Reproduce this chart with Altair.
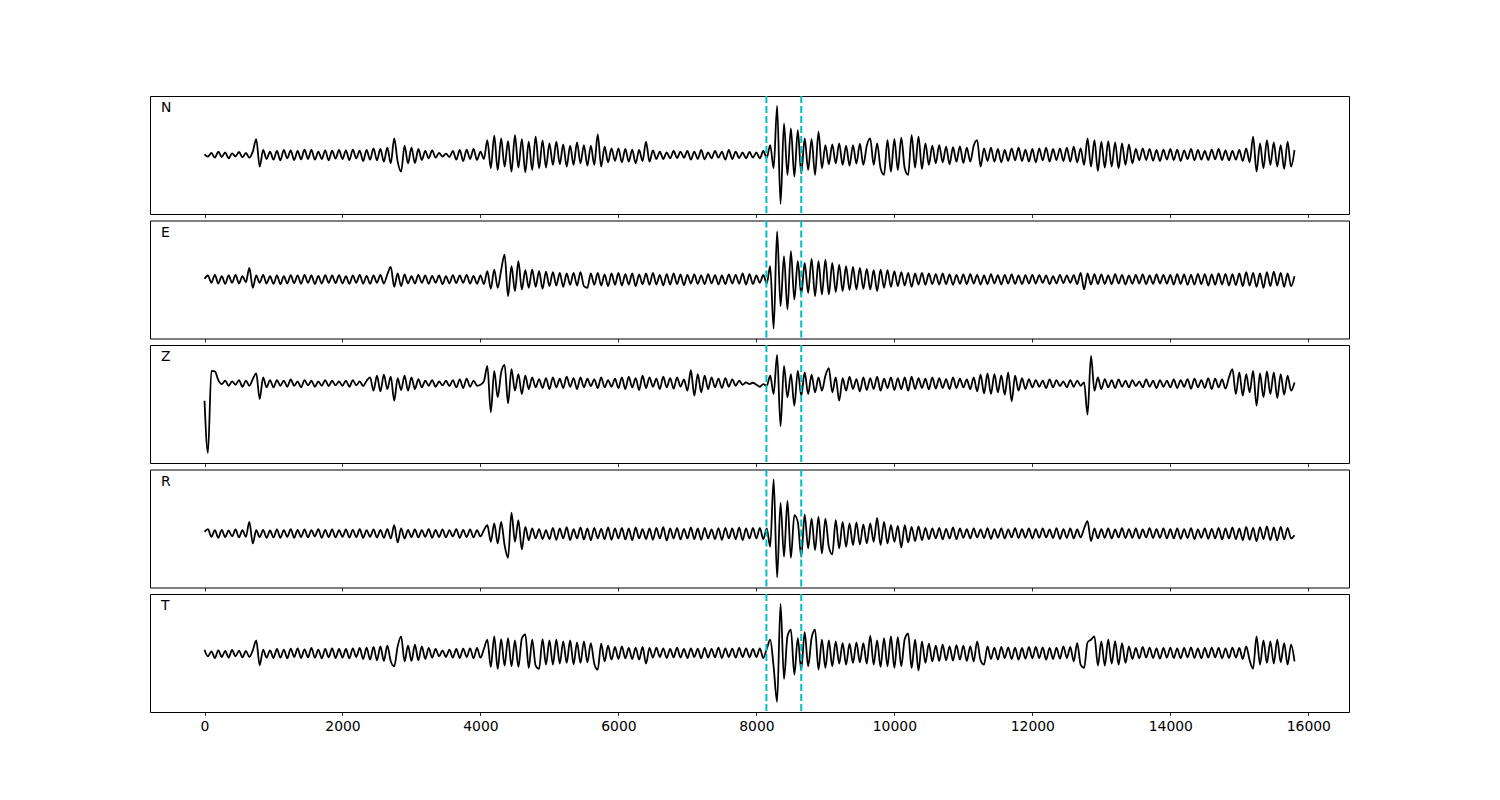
import altair as alt
import pandas as pd

STEP = 50

N_vals = (
    [2, -5, 6, -8, 10, -6, 8, -10, 5, -4, 9, -7, 6, -8, 10, 48, -35, 15, -12, 10]
    + [-14, 12, -16, 15, -10, 14, -15, 12, -13, 16, -12, 15, -14, 10, -12, 14, -16, 13, -11, 15]
    + [-12, 14, -15, 16, -10, 13, -18, 15, -14, 20, -16, 18, -20, 22, -25, 50, -20, -50, 28, -25]
    + [22, -24, 18, -15, 12, -10, 14, -8, 6, -5, 4, -6, 12, -14, 15, -18, 16, -12, 18, -15]
    + [10, -12, 45, -40, 58, -45, 50, -35, 42, -50, 60, -38, 48, -52, 40, -45, 55, -40, 44, -38]
    + [35, -30, 40, -28, 32, -35, 28, -30, 38, -25, 30, -32, 28, -30, 62, -35, 25, -22, 20, -18]
    + [20, -22, 18, -20, 16, -25, 15, -18, 40, -20, 14, -12, 10, -12, 8, -10, 12, -9, 10, -8]
    + [12, -14, 10, -12, 15, -13, 8, -10, 12, -8, 10, -14, 15, -12, 10, -9, 8, -10, 9, -8]
    + [8, -10, 12, -8, 30, -40, 148, -147, 95, -60, 80, -65, 75, -55, 50, -45, 48, -60, 70, -40]
    + [30, -28, 32, -25, 35, -30, 28, -32, 30, -26, 34, -30, 28, 50, -30, 35, -40, -60, 45, -50]
    + [48, -45, 52, -40, -60, 60, -38, 55, -42, 35, -30, 28, -25, 30, -22, 25, -28, 24, -20, 26]
    + [-24, 22, -20, 28, 45, -35, 20, -18, 22, -20, 18, -22, 15, -18, 20, -16, 22, -18, 16, -20]
    + [18, -22, 20, -16, 22, -20, 18, -15, 20, -18, 22, -20, 25, -22, 20, -30, 50, -35, 45, -48]
    + [40, -38, 42, -35, 38, -40, 35, -30, 32, -25, 18, -16, 20, -15, 18, -17, 15, -18, 16, -14]
    + [18, -15, 16, -18, 14, -12, 18, -16, 15, -14, 12, -15, 16, -13, 18, -15, 14, -16, 12, -14]
    + [15, -18, 20, -22, 55, -50, 35, -40, 45, -30, 38, -35, 30, -42, 40, -35, 15]
)

E_vals = (
    [2, 12, -10, 14, -12, 10, -13, 12, -10, 14, -12, 10, -8, 35, -25, 12, -10, 14, -12, 10]
    + [-13, 12, -14, 10, -12, 13, -11, 12, -13, 14, -10, 12, -14, 11, -12, 13, -10, 12, -11, 13]
    + [-12, 10, -13, 12, -10, 14, -12, 11, -13, 12, -10, 14, -12, 15, 38, -22, 18, -20, 15, -12]
    + [10, -12, 14, -10, 12, -13, 11, -10, 12, -14, 10, -12, 13, -11, 12, -10, 14, -12, 11, -13]
    + [12, -14, 25, -28, 30, -25, 28, 75, -50, 40, -35, 55, -30, 28, -25, 30, -22, 25, -28, 24]
    + [-20, 22, -18, 20, -22, 18, -16, 20, -18, 22, -20, -25, 18, -16, 20, -18, 15, -20, 18, -16]
    + [20, -18, 16, -15, 18, -20, 15, -14, 18, -16, 20, -15, 14, -18, 16, -15, 18, -14, 15, -17]
    + [14, -12, 15, -13, 12, -14, 16, -12, 13, -15, 12, -14, 15, -12, 14, -13, 18, -15, 16, -14]
    + [12, -10, 14, -12, 40, -148, 145, -80, 70, -90, 85, -60, 55, -45, 50, -40, 62, -50, 55, -45]
    + [60, -45, 50, -38, 45, -35, 40, -32, 38, -30, 35, -28, 32, -30, 28, -35, 30, -25, 28, -22]
    + [25, -20, 22, -18, 20, -22, 18, -15, 20, -16, 18, -14, 16, -15, 18, -14, 15, -16, 14, -13]
    + [15, -14, 16, -12, 14, -15, 12, -14, 16, -12, 13, -15, 14, -12, 15, -13, 12, -14, 13, -12]
    + [14, -12, 13, -10, 12, -14, 10, -12, 14, -11, 12, -10, 13, -14, 20, -30, 18, -15, 16, -14]
    + [15, -13, 12, -14, 16, -12, 14, -15, 12, -13, 14, -12, 15, -14, 12, -13, 15, -12, 14, -13]
    + [14, -15, 16, -13, 15, -16, 14, -15, 17, -14, 16, -18, 15, -16, 18, -15, 17, -18, 16, -17]
    + [18, -20, 22, -18, 20, -22, 18, -25, 22, -20, 24, -18, 20, -22, 18, -20, 10]
)

Z_vals = (
    [10, -147, 100, 98, 72, 60, 70, 55, 68, 58, 72, 52, 70, 55, 75, 92, 15, 80, 50, 72]
    + [50, 72, 55, 70, 52, 74, 55, 68, 50, 72, 56, 70, 52, 68, 55, 72, 54, 70, 56, 68]
    + [55, 70, 52, 72, 56, 68, 54, 70, 80, 40, 85, 38, 88, 45, 82, 10, 78, 42, 85, 40]
    + [80, 45, 75, 50, 70, 55, 72, 52, 68, 56, 70, 54, 72, 50, 74, 48, 76, 52, 70, 55]
    + [58, 68, 115, -25, 100, 20, 95, 118, 2, 105, 40, 90, 30, 85, 45, 80, 50, 75, 48, 78]
    + [45, 80, 50, 76, 48, 82, 52, 78, 45, 80, 50, 76, 54, 74, 48, 80, 50, 72, 52, 76]
    + [48, 80, 45, 82, 50, 78, 42, 85, 48, 80, 52, 76, 45, 82, 50, 78, 46, 80, 52, 74]
    + [40, 102, 25, 90, 35, 85, 45, 80, 50, 76, 48, 78, 52, 74, 55, 70, 58, 65, 60, 64]
    + [58, 52, 60, 55, 85, 30, 148, -67, 115, 20, 90, -5, 100, 25, 95, 30, 88, 35, 80, 40]
    + [85, 108, 35, 80, 10, 78, 40, 82, 45, 75, 38, 80, 42, 78, 45, 82, 40, 76, 48, 80]
    + [42, 78, 45, 80, 40, 82, 45, 78, 48, 76, 44, 80, 46, 78, 48, 75, 45, 80, 48, 76]
    + [50, 74, 45, 80, 38, 88, 32, 92, 30, 90, 35, 86, 28, 95, 8, 85, 40, 78, 45, 75]
    + [50, 72, 52, 70, 48, 74, 50, 72, 54, 68, 50, 72, 52, 70, 55, 65, -32, 145, 40, 80]
    + [45, 75, 50, 72, 48, 74, 52, 70, 50, 72, 54, 68, 50, 74, 52, 70, 48, 72, 52, 70]
    + [50, 74, 48, 72, 52, 75, 46, 76, 50, 72, 48, 78, 45, 76, 50, 74, 46, 80, 105, 30]
    + [95, 25, 90, 35, 100, -5, 92, 20, 98, 30, 95, 18, 90, 28, 85, 40, 65]
)

R_vals = (
    [-10, -2, -25, -5, -28, -4, -26, -6, -24, -3, -27, -5, -25, 20, -45, -5, -26, -4, -28, -6]
    + [-27, -3, -28, -5, -25, -2, -28, -4, -26, -3, -27, -5, -24, -2, -28, -4, -26, -3, -27, -5]
    + [-25, -3, -27, -4, -26, -2, -28, -5, -25, -3, -27, -4, -28, -2, -30, 10, -42, 0, -30, -4]
    + [-26, -3, -27, -5, -25, -2, -28, -4, -26, -3, -27, -5, -24, -2, -28, -4, -26, -3, -27, -5]
    + [-24, -5, 10, -40, 15, -45, 20, -50, -88, 48, -40, 25, -63, 5, -35, 0, -30, -2, -32, -5]
    + [-32, 2, -34, 0, -30, 4, -35, -2, -30, 3, -33, 0, -35, 2, -30, -1, -32, 3, -34, 0]
    + [-30, 2, -33, 0, -35, 3, -30, -2, -32, 0, -34, 2, -30, 4, -36, 0, -30, 2, -33, -1]
    + [-30, 3, -32, 0, -34, 2, -30, -3, -32, 1, -34, 2, -30, 0, -32, 3, -35, 0, -30, 2]
    + [-30, 2, -32, 0, -55, 148, -147, 77, -85, 83, -88, 40, 20, -85, 42, -60, 30, -65, 35, -75]
    + [30, -55, -78, 25, -60, 20, -55, 15, -50, 18, -48, 12, -45, 15, -40, 32, -50, 20, -45, 10]
    + [-40, 8, -57, 10, -42, 5, -38, 6, -35, 2, -32, 0, -30, 2, -33, -1, -30, 3, -32, 0]
    + [-28, -2, -30, 0, -27, -3, -29, 1, -31, -2, -28, 0, -30, -3, -27, 1, -29, -2, -28, 0]
    + [-30, -2, -28, 0, -27, -3, -29, 1, -31, -2, -28, 0, -30, -3, -27, 0, 22, -38, 0, -30]
    + [-2, -28, 0, -30, -3, -27, 1, -29, -2, -28, 0, -30, -3, -27, 1, -29, -2, -28, 0, -30]
    + [-2, -30, 0, -31, -2, -29, 1, -32, -3, -28, 0, -31, -1, -30, 2, -33, 0, -30, 3, -32]
    + [0, -35, 5, -34, 2, -38, 4, -32, 6, -35, 3, -36, 5, -33, 2, -30, -20]
)

T_vals = (
    [10, -10, 5, -15, 8, -12, 6, -14, 9, -10, 7, -13, 6, -12, 8, 38, -37, 10, -14, 8]
    + [-15, 12, -14, 10, -16, 13, -12, 14, -15, 11, -13, 15, -14, 10, -16, 12, -13, 14, -15, 12]
    + [-14, 12, -16, 14, -12, 15, -18, 16, -20, 18, -22, 20, -24, 22, -25, -40, 20, 50, -25, 22]
    + [-24, 25, -22, 20, -18, 15, -14, 12, -10, 8, -12, 10, -14, 12, -15, 13, -12, 14, -16, 15]
    + [-14, 12, 40, -42, 50, -48, 42, -38, 45, -40, 38, -42, 44, 56, -45, 40, -38, -48, 42, -35]
    + [38, -35, 40, -32, 35, -30, 38, -34, 32, -30, 35, -28, 30, -32, -50, 28, -25, 22, -20, 18]
    + [-18, 20, -16, 15, -18, 16, -20, 18, -32, 15, -14, 16, -12, 14, -15, 12, -13, 16, -14, 12]
    + [-15, 14, -12, 13, -16, 15, -14, 12, -13, 16, -15, 14, -12, 13, -14, 15, -12, 14, -13, 12]
    + [-12, 14, -15, 12, 40, -42, -147, 148, -78, 50, 70, -65, 45, -50, 63, -40, 45, 70, -50, 40]
    + [-45, 38, -40, 35, -32, 30, -35, 28, -30, 32, -28, 30, -32, 52, -35, 38, -42, 45, -40, 50]
    + [-45, 48, -40, 42, 58, -45, 40, -53, 35, -30, 28, -25, 22, -24, 25, -22, 20, -23, 24, -20]
    + [22, -24, 20, -25, 35, -22, -35, 20, -18, 16, -20, 18, -15, 17, -18, 16, -20, 15, -17, 18]
    + [-16, 18, -15, 17, -20, 15, -18, 16, -17, 20, -15, 18, -25, 30, -35, -45, 32, 40, 50, -38]
    + [35, -38, 40, -32, 36, -35, 30, -30, 20, -18, 15, -16, 18, -14, 16, -15, 14, -17, 15, -14]
    + [16, -15, 14, -16, 15, -13, 17, -15, 14, -16, 15, -14, 16, -13, 15, -16, 14, -15, 16, -14]
    + [15, -18, 20, -22, -47, 50, -35, 38, -30, 35, -32, 40, -28, 30, -35, 25, -25]
)

components = ["N", "E", "Z", "R", "T"]
traces = [N_vals, E_vals, Z_vals, R_vals, T_vals]
picks = [8145, 8650]
x_ticks = [0, 2000, 4000, 6000, 8000, 10000, 12000, 14000, 16000]
x_domain = [-790, 16590]

W, H = 1199, 118
FONT = "DejaVu Sans"

panels = []
for i, (name, vals) in enumerate(zip(components, traces)):
    df = pd.DataFrame({"t": [STEP * k for k in range(len(vals))], "v": vals})
    lim = 1.2 * max(abs(v) for v in vals)
    last = i == len(components) - 1
    xaxis = alt.Axis(
        values=x_ticks,
        labels=last,
        ticks=True,
        domain=False,
        grid=False,
        tickSize=3.5,
        tickWidth=0.8,
        tickColor="black",
        labelColor="black",
        labelFont=FONT,
        labelFontSize=13.9,
        labelPadding=3.5,
        labelFlush=False,
        format="d",
    )
    xscale = alt.Scale(domain=x_domain, nice=False, zero=False)
    line = (
        alt.Chart(df)
        .mark_line(color="black", strokeWidth=1.8, clip=True, interpolate="monotone")
        .encode(
            x=alt.X("t:Q", scale=xscale, axis=xaxis, title=None),
            y=alt.Y("v:Q", scale=alt.Scale(domain=[-lim, lim], nice=False, zero=False), axis=None),
        )
    )
    rules = (
        alt.Chart(pd.DataFrame({"t": picks}))
        .mark_rule(color="#00bfbf", strokeWidth=2, strokeDash=[7, 3])
        .encode(x=alt.X("t:Q", scale=xscale, title=None))
    )
    label = (
        alt.Chart(pd.DataFrame({"label": [name]}))
        .mark_text(align="left", baseline="middle", font=FONT, fontSize=13.9, color="black")
        .encode(text="label:N", x=alt.value(11), y=alt.value(12))
    )
    panels.append(alt.layer(line, rules, label).properties(width=W, height=H))

chart = (
    alt.vconcat(*panels, spacing=6.5, bounds="flush")
    .properties(padding={"left": 141, "top": 86, "right": 5, "bottom": 5})
    .configure_view(stroke="black", strokeWidth=1)
)

chart.save("out.html", embed_options={"renderer": "svg", "actions": False})
